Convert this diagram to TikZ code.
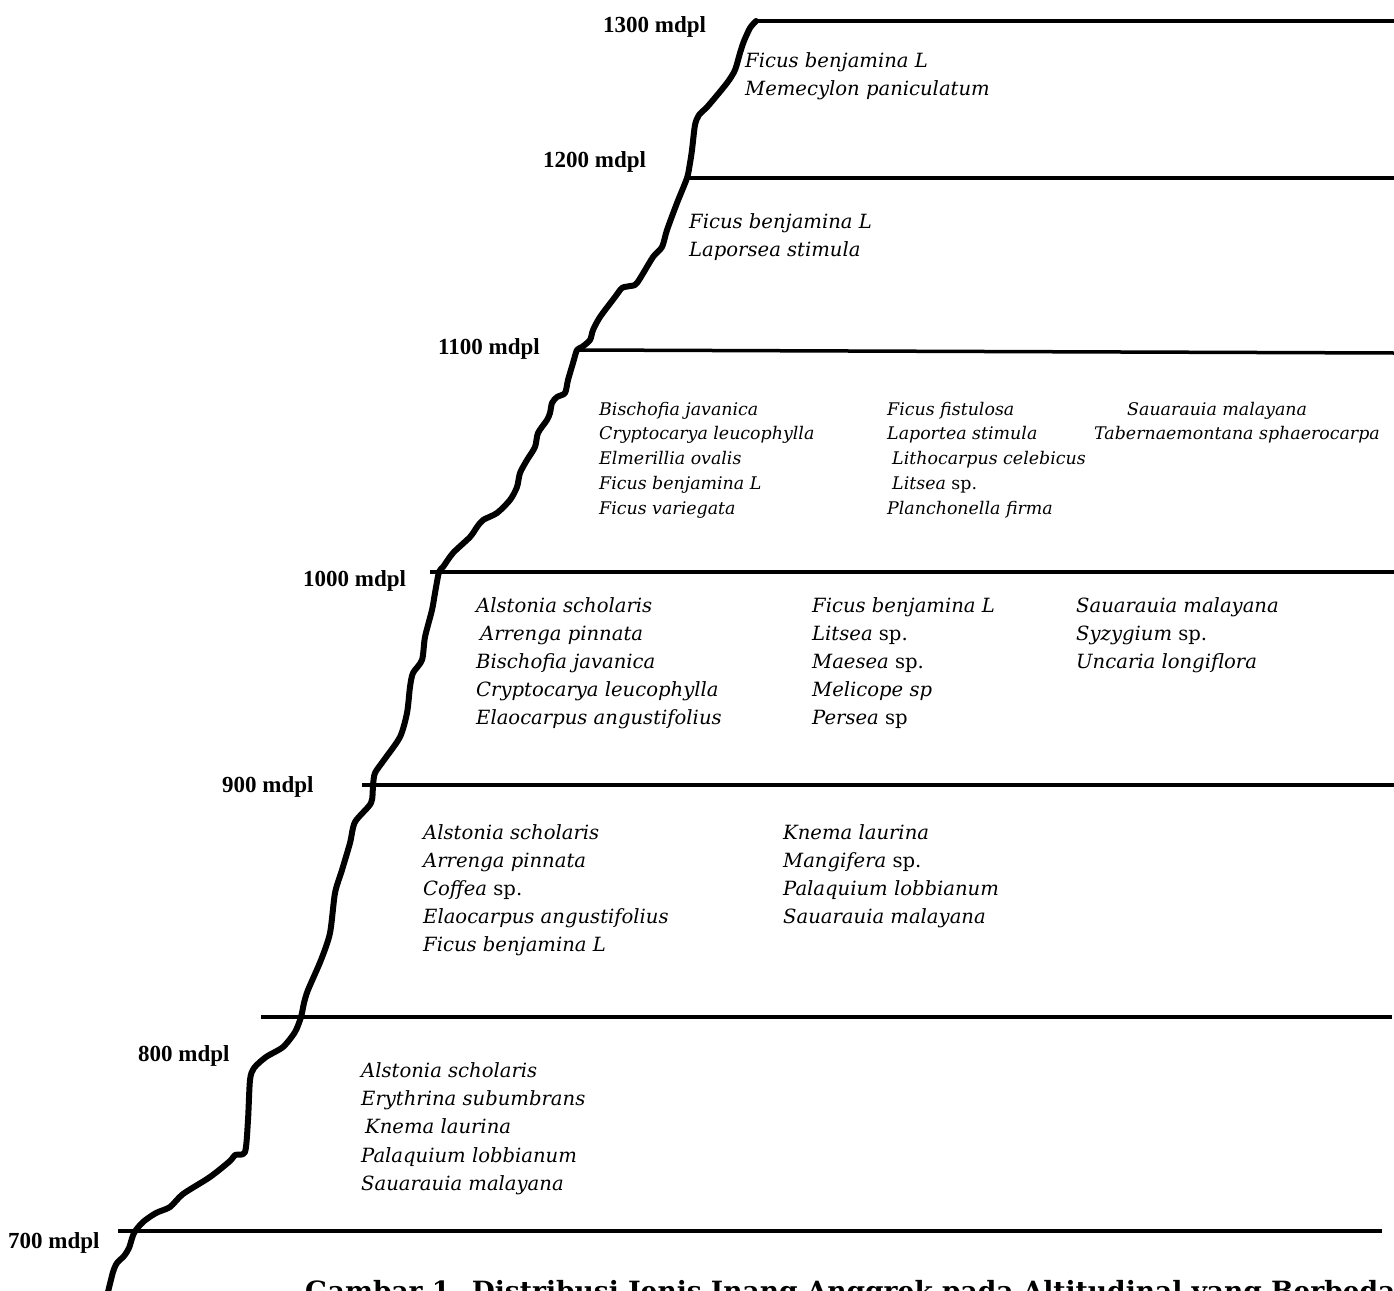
\documentclass[tikz,border=0pt]{standalone}
\usepackage{fontspec}
\setmainfont{Liberation Serif}
\newfontfamily\spfam{DejaVu Serif}
\newfontfamily\capfam{DejaVu Serif}
\begin{document}
\begin{tikzpicture}[x=1pt,y=-1pt,
  lvl/.style={line width=3.5pt},
  slope/.style={line width=6pt,line join=round,line cap=round},
  lab/.style={font=\bfseries\fontsize{23}{26}\selectfont,inner sep=0pt,anchor=base west},
  spe/.style={font=\spfam\itshape\fontsize{19.6}{23}\selectfont,inner sep=0pt,anchor=base west},
  spes/.style={font=\spfam\itshape\fontsize{17.4}{20}\selectfont,inner sep=0pt,anchor=base west}]
\useasboundingbox (0,0) rectangle (1394,1290);
\clip (0,0) rectangle (1394,1290);
% level lines
\coordinate (l13a) at (755,21);  \coordinate (l13b) at (1394,21);
\coordinate (l12a) at (687,178); \coordinate (l12b) at (1394,178);
\coordinate (l11a) at (577,350); \coordinate (l11b) at (1394,353);
\coordinate (l10a) at (430,572); \coordinate (l10b) at (1394,572);
\coordinate (l9a) at (362,785);  \coordinate (l9b) at (1394,785);
\coordinate (l8a) at (261,1017); \coordinate (l8b) at (1392,1017);
\coordinate (l7a) at (118,1231); \coordinate (l7b) at (1382,1231);
\foreach \n in {13,12,11,10,9,8,7} \draw[lvl] (l\n a) -- (l\n b);
% slope
\draw[slope] plot[smooth,tension=0.45] coordinates {
(108,1292) (113,1272) (117,1263) (124,1256) (129,1248) (134,1233) (143,1222)
(156,1213) (170,1207) (183,1194) (210,1177) (230,1161) (235,1155) (245,1152)
(248,1120) (250,1080) (254,1068) (266,1057) (283,1047) (295,1032) (301,1017)
(304,1003) (308,990) (321,960) (330,933) (335,893) (342,870) (350,843) (355,822)
(371,803) (373,785) (375,773) (384,760) (400,737) (407,713) (410,687) (413,673)
(422,660) (425,637) (432,610) (435,593) (439,572) (443,567) (453,553) (470,537)
(477,527) (483,520) (497,513) (510,500) (517,487) (520,473) (527,460) (535,447)
(538,433) (547,420) (550,413) (552,403) (557,397) (565,393) (568,380) (573,363)
(577,350) (582,347) (590,340) (593,330) (600,317) (615,297) (622,288) (630,286)
(637,283) (653,257) (662,247) (667,230) (677,203) (687,178) (690,163) (692,150)
(695,125) (699,115) (708,106) (727,83) (735,70) (740,53) (744,41) (750,28) (756,21)};
% level labels
\node[lab] (t13) at (603,33) {1300 mdpl};
\node[lab] (t12) at (543,167) {1200 mdpl};
\node[lab] (t11) at (438,354) {1100 mdpl};
\node[lab] (t10) at (303,586) {1000 mdpl};
\node[lab] (t9) at (222,792) {900 mdpl};
\node[lab] (t8) at (138,1061) {800 mdpl};
\node[lab] (t7) at (8,1248) {700 mdpl};
% 1300
\node[spe] (a1) at (745,67) {Ficus benjamina L};
\node[spe] (a2) at (745,95) {Memecylon paniculatum};
% 1200
\node[spe] (b1) at (689,228) {Ficus benjamina L};
\node[spe] (b2) at (689,256) {Laporsea stimula};
% 1100
\foreach \t [count=\i from 0] in {Bischofia javanica,Cryptocarya leucophylla,Elmerillia ovalis,Ficus benjamina L,Ficus variegata}
  \node[spes] (c1\i) at (599,415+24.8*\i) {\t};
\node[spes] (c20) at (887,415) {Ficus fistulosa};
\node[spes] (c21) at (887,439.8) {Laportea stimula};
\node[spes] (c22) at (892,464.6) {Lithocarpus celebicus};
\node[spes] (c23) at (892,489.4) {Litsea {\upshape sp.}};
\node[spes] (c24) at (887,514.2) {Planchonella firma};
\node[spes] (c30) at (1127,415) {Sauarauia malayana};
\node[spes] (c31) at (1094,439.8) {Tabernaemontana sphaerocarpa};
% 1000
\node[spe] (d10) at (476,612) {Alstonia scholaris};
\node[spe] (d11) at (480,640) {Arrenga pinnata};
\node[spe] (d12) at (476,668) {Bischofia javanica};
\node[spe] (d13) at (476,696) {Cryptocarya leucophylla};
\node[spe] (d14) at (476,724) {Elaocarpus angustifolius};
\node[spe] (d20) at (812,612) {Ficus benjamina L};
\node[spe] (d21) at (812,640) {Litsea {\upshape sp.}};
\node[spe] (d22) at (812,668) {Maesea {\upshape sp.}};
\node[spe] (d23) at (812,696) {Melicope sp};
\node[spe] (d24) at (812,724) {Persea {\upshape sp}};
\node[spe] (d30) at (1076,612) {Sauarauia malayana};
\node[spe] (d31) at (1076,640) {Syzygium {\upshape sp.}};
\node[spe] (d32) at (1076,668) {Uncaria longiflora};
% 900
\node[spe] (e10) at (423,839) {Alstonia scholaris};
\node[spe] (e11) at (423,867) {Arrenga pinnata};
\node[spe] (e12) at (423,895) {Coffea {\upshape sp.}};
\node[spe] (e13) at (423,923) {Elaocarpus angustifolius};
\node[spe] (e14) at (423,951) {Ficus benjamina L};
\node[spe] (e20) at (783,839) {Knema laurina};
\node[spe] (e21) at (783,867) {Mangifera {\upshape sp.}};
\node[spe] (e22) at (783,895) {Palaquium lobbianum};
\node[spe] (e23) at (783,923) {Sauarauia malayana};
% 800
\node[spe] (f0) at (361,1077) {Alstonia scholaris};
\node[spe] (f1) at (361,1105) {Erythrina subumbrans};
\node[spe] (f2) at (365,1133) {Knema laurina};
\node[spe] (f3) at (361,1162) {Palaquium lobbianum};
\node[spe] (f4) at (361,1190) {Sauarauia malayana};
% caption (cut by the page edge, as in the reference)
\node[font=\capfam\bfseries\fontsize{26.5}{30}\selectfont,inner sep=0pt,anchor=base west] (cap) at (305,1300)
  {Gambar 1. Distribusi Jenis Inang Anggrek pada Altitudinal yang Berbeda};
\end{tikzpicture}
\end{document}
